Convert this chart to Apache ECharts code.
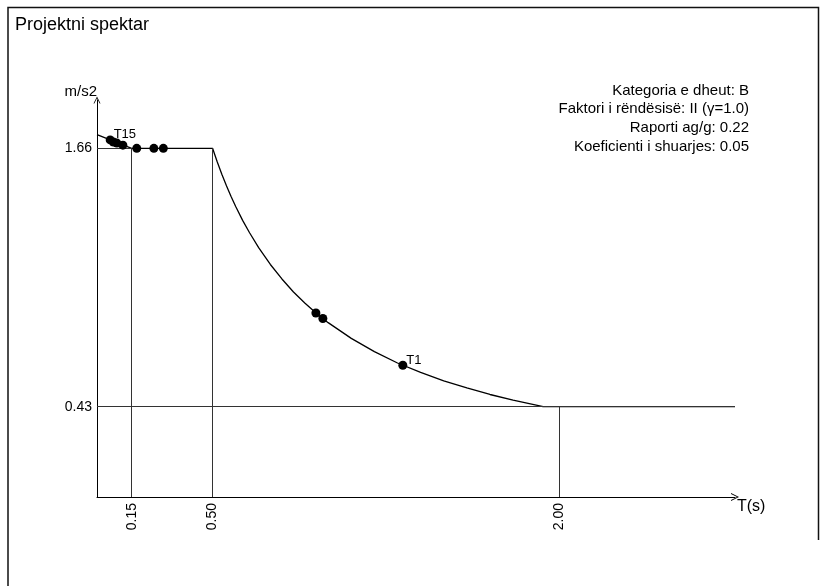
<!DOCTYPE html>
<html>
<head>
<meta charset="utf-8">
<script src="https://cdn.jsdelivr.net/npm/echarts@6/dist/echarts.min.js"></script>
<style>
  html, body { margin: 0; padding: 0; background: #fff; }
  #chart { width: 820px; height: 586px; }
</style>
</head>
<body>
<div id="chart"></div>
<script>
// spektri projektues - vlerat e lexuara nga grafiku
const periods = [0, 0.15, 0.5, 0.52, 0.54, 0.56, 0.58, 0.6, 0.63, 0.66, 0.7, 0.75, 0.8, 0.85, 0.9, 0.95,
  1.0, 1.1, 1.2, 1.3, 1.4, 1.5, 1.6, 1.7, 1.8, 1.93, 2.0, 2.76];
const accel = [1.725, 1.66, 1.66, 1.596, 1.537, 1.482, 1.431, 1.383, 1.317, 1.258, 1.186, 1.107, 1.038, 0.976, 0.922, 0.874,
  0.83, 0.755, 0.692, 0.638, 0.593, 0.553, 0.519, 0.488, 0.461, 0.43, 0.43, 0.43];

// periodat e formave
const modePeriods = [0.057, 0.071, 0.086, 0.112, 0.172, 0.246, 0.287, 0.947, 0.977, 1.323];
const modeAccel = [1.70, 1.69, 1.685, 1.675, 1.66, 1.66, 1.66, 0.876, 0.85, 0.627];
const modeNames = ['T15', '', '', '', '', '', '', '', '', 'T1'];

const xTicks = [0.15, 0.5, 2.0];
const yTicks = [0.43, 1.66];
const xMax = 2.76;
const yMax = 1.89;

const infoLines = [
  'Kategoria e dheut: B',
  'Faktori i rëndësisë: II (γ=1.0)',
  'Raporti ag/g: 0.22',
  'Koeficienti i shuarjes: 0.05'
];

const font = "'Liberation Sans', Arial, sans-serif";
// shigjeta e hapur ne fund te boshteve
const arrow = 'path://M0,10 L5,0 L10,10 L8.8,10 L5,2.4 L1.2,10 Z';

let chart = echarts.init(document.getElementById('chart'));

let curve = periods.map((t, i) => [t, accel[i]]);
let modes = modePeriods.map((t, i) => ({ value: [t, modeAccel[i]], name: modeNames[i] }));

// vijat ndihmese
let guides = [
  [{ coord: [0, yTicks[1]] }, { coord: [xTicks[0], yTicks[1]] }],
  [{ coord: [0, yTicks[0]] }, { coord: [xMax, yTicks[0]] }],
  [{ coord: [xTicks[0], 0] }, { coord: [xTicks[0], yTicks[1]] }],
  [{ coord: [xTicks[1], 0] }, { coord: [xTicks[1], yTicks[1]] }],
  [{ coord: [xTicks[2], 0] }, { coord: [xTicks[2], yTicks[0]] }]
];

let option = {
  animation: false,
  textStyle: { fontFamily: font },
  title: {
    text: 'Projektni spektar',
    left: 10,
    top: 11,
    textStyle: { fontFamily: font, fontSize: 18, fontWeight: 'normal', color: '#000' }
  },
  grid: { left: 97, right: 85, top: 100, bottom: 89 },
  xAxis: {
    type: 'value',
    min: 0,
    max: xMax,
    name: 'T(s)',
    nameLocation: 'end',
    nameGap: 2,
    nameTextStyle: { fontSize: 16, color: '#000', verticalAlign: 'top', padding: [2, 0, 0, 0] },
    splitLine: { show: false },
    axisTick: { show: false },
    axisLine: {
      lineStyle: { color: '#000', width: 1 },
      symbol: ['none', arrow],
      symbolSize: [8, 10],
      symbolOffset: [0, 0]
    },
    axisLabel: {
      customValues: xTicks,
      rotate: 90,
      margin: 6,
      padding: [0, 0, 6, 0],
      fontSize: 14,
      color: '#000',
      formatter: v => v.toFixed(2)
    }
  },
  yAxis: {
    type: 'value',
    min: 0,
    max: yMax,
    name: 'm/s2',
    nameLocation: 'end',
    nameGap: 1,
    nameTextStyle: { fontSize: 15, color: '#000', align: 'right' },
    splitLine: { show: false },
    axisTick: { show: false },
    axisLine: {
      lineStyle: { color: '#000', width: 1 },
      symbol: ['none', arrow],
      symbolSize: [7, 7],
      symbolOffset: [0, 0]
    },
    axisLabel: {
      customValues: yTicks,
      margin: 5,
      fontSize: 14,
      color: '#000',
      formatter: v => v.toFixed(2)
    }
  },
  series: [
    {
      type: 'line',
      data: curve,
      symbol: 'none',
      lineStyle: { color: '#000', width: 1.3 },
      z: 3,
      markLine: {
        silent: true,
        symbol: 'none',
        label: { show: false },
        lineStyle: { color: '#333', width: 1, type: 'solid' },
        data: guides
      }
    },
    {
      type: 'scatter',
      data: modes,
      symbolSize: 9,
      itemStyle: { color: '#000', opacity: 1 },
      z: 5,
      label: {
        show: true,
        position: 'right',
        distance: 0,
        offset: [-1, -5],
        fontSize: 13,
        color: '#000',
        formatter: p => p.name
      }
    }
  ],
  graphic: [
    {
      type: 'polyline',
      shape: { points: [[8, 586], [8, 7.5], [818.5, 7.5], [818.5, 540]] },
      style: { stroke: '#111', lineWidth: 1.5, fill: null }
    },
    {
      type: 'group',
      right: 71,
      top: 83,
      children: infoLines.map((s, i) => ({
        type: 'text',
        x: 0,
        y: i * 18.7,
        style: { text: s, font: '15px ' + font, fill: '#000', align: 'right' }
      }))
    }
  ]
};

chart.setOption(option);
</script>
</body>
</html>
